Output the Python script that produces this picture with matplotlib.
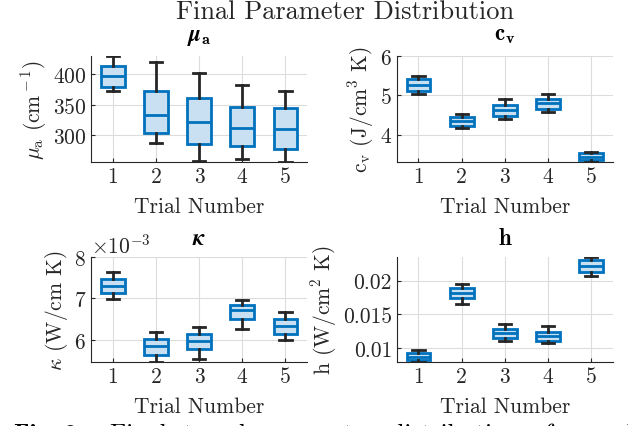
import numpy as np
import matplotlib
matplotlib.use('Agg')
import matplotlib.pyplot as plt
from matplotlib.ticker import ScalarFormatter

# --- DATA ---
trials = [1, 2, 3, 4, 5]

# mu_a (cm^-1): lower whisker, q1, median, q3, upper whisker
mua_lo = [372, 287, 258, 260, 255.5]
mua_q1 = [380, 302.7, 286, 282, 277.5]
mua_med = [397, 333, 322, 312, 310]
mua_q3 = [413.7, 372, 361, 346, 345]
mua_hi = [430, 419.7, 401.6, 382, 373]

# c_v (J/cm^3 K)
cv_lo = [5.03, 4.17, 4.40, 4.59, 3.30]
cv_q1 = [5.12, 4.23, 4.47, 4.66, 3.35]
cv_med = [5.27, 4.34, 4.62, 4.80, 3.44]
cv_q3 = [5.41, 4.46, 4.75, 4.92, 3.52]
cv_hi = [5.49, 4.52, 4.90, 5.04, 3.57]

# kappa (W/cm K), x1e-3
k_lo = [6.99e-3, 5.47e-3, 5.55e-3, 6.26e-3, 6.00e-3]
k_q1 = [7.13e-3, 5.64e-3, 5.79e-3, 6.50e-3, 6.14e-3]
k_med = [7.31e-3, 5.86e-3, 5.97e-3, 6.71e-3, 6.33e-3]
k_q3 = [7.47e-3, 6.02e-3, 6.14e-3, 6.84e-3, 6.50e-3]
k_hi = [7.63e-3, 6.20e-3, 6.32e-3, 6.96e-3, 6.68e-3]

# h (W/cm^2 K)
h_lo = [0.00795, 0.01654, 0.01107, 0.01078, 0.02063]
h_q1 = [0.0082, 0.01737, 0.01151, 0.01107, 0.02132]
h_med = [0.00873, 0.0182, 0.01219, 0.0118, 0.02215]
h_q3 = [0.00922, 0.01893, 0.01283, 0.01244, 0.02302]
h_hi = [0.00976, 0.01946, 0.01351, 0.01322, 0.02351]

# --- STYLE ---
plt.rcParams['font.family'] = 'cmr10'
plt.rcParams['mathtext.fontset'] = 'cm'
plt.rcParams['axes.formatter.use_mathtext'] = True
plt.rcParams['axes.unicode_minus'] = False
plt.rcParams['font.size'] = 15.5

BLUE = '#0072BD'
FACE = '#C8E0F2'
DARK = '#262626'
FS = 15.5


def make_stats(lo, q1, med, q3, hi):
    return [{'whislo': a, 'q1': b, 'med': c, 'q3': d, 'whishi': e, 'fliers': []}
            for a, b, c, d, e in zip(lo, q1, med, q3, hi)]


def draw_panel(ax, stats, title, ylabel, yticks, ylim_top=None, tpad=10):
    ax.bxp(stats, positions=trials, widths=0.55, capwidths=0.28,
           patch_artist=True, showfliers=False,
           boxprops=dict(facecolor=FACE, edgecolor=BLUE, linewidth=2),
           medianprops=dict(color=BLUE, linewidth=2),
           whiskerprops=dict(color=DARK, linewidth=2),
           capprops=dict(color=DARK, linewidth=2))
    lo = min(s['whislo'] for s in stats)
    hi = max(s['whishi'] for s in stats)
    ax.set_ylim(lo, ylim_top if ylim_top is not None else hi)
    ax.set_xlim(0.5, 5.5)
    ax.set_xticks(trials)
    ax.set_yticks(yticks)
    ax.grid(True, color='#DCDCDC', linewidth=0.8)
    ax.set_axisbelow(True)
    for side in ['top', 'right']:
        ax.spines[side].set_visible(False)
    for side in ['left', 'bottom']:
        ax.spines[side].set_color(DARK)
    ax.tick_params(direction='in', colors=DARK, labelsize=FS, length=3)
    ax.set_title(title, fontsize=16.5, color='black', pad=tpad)
    ax.set_ylabel(ylabel, color=DARK, fontsize=FS, labelpad=3)
    ax.set_xlabel('Trial Number', color=DARK, fontsize=FS, labelpad=7)


fig = plt.figure(figsize=(6.28, 4.27), dpi=100)

ax1 = fig.add_axes([0.145, 0.618, 0.344, 0.248])
ax2 = fig.add_axes([0.632, 0.618, 0.344, 0.248])
ax3 = fig.add_axes([0.145, 0.150, 0.344, 0.246])
ax4 = fig.add_axes([0.632, 0.150, 0.344, 0.246])

draw_panel(ax1, make_stats(mua_lo, mua_q1, mua_med, mua_q3, mua_hi),
           r'$\boldsymbol{\mu}_{\mathbf{a}}$',
           r'$\mu_{\rm a}$ (cm$^{\rm -1}$)', [300, 350, 400], tpad=12)
draw_panel(ax2, make_stats(cv_lo, cv_q1, cv_med, cv_q3, cv_hi),
           r'$\mathbf{c}_{\mathbf{v}}$',
           r'c$_{\rm v}$ (J/cm$^{\rm 3}$ K)', [4, 5, 6], ylim_top=6, tpad=12)
draw_panel(ax3, make_stats(k_lo, k_q1, k_med, k_q3, k_hi),
           r'$\boldsymbol{\kappa}$',
           r'$\kappa$ (W/cm K)', [6e-3, 7e-3, 8e-3], ylim_top=8e-3, tpad=9)
draw_panel(ax4, make_stats(h_lo, h_q1, h_med, h_q3, h_hi),
           r'$\mathbf{h}$',
           r'h (W/cm$^{\rm 2}$ K)', [0.01, 0.015, 0.02], tpad=9)

fmt = ScalarFormatter(useMathText=True)
fmt.set_powerlimits((-2, 2))
ax3.yaxis.set_major_formatter(fmt)
ax3.yaxis.get_offset_text().set_color(DARK)
ax3.yaxis.get_offset_text().set_fontsize(FS)
ax4.yaxis.set_major_formatter(plt.FuncFormatter(lambda v, p: ('%g' % v)))

fig.text(0.55, 0.972, 'Final Parameter Distribution', ha='center', va='center',
         fontsize=19, color=DARK)

# caption, cut off at the bottom like in the source
fig.text(0.022, -0.018, 'Fig. 2:', fontsize=18, fontfamily='cmb10',
         ha='left', va='center')
fig.text(0.175, -0.018, 'Final  tuned  parameter  distributions  for  each',
         fontsize=18, ha='left', va='center')

fig.savefig('out.png', dpi=100)
